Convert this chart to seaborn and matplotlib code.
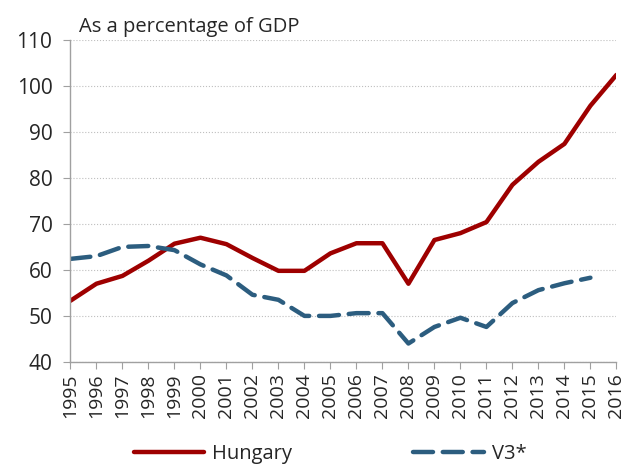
import pandas as pd
import matplotlib.pyplot as plt
import seaborn as sns
import numpy as np
from matplotlib.lines import Line2D

# dati
anni = list(range(1995, 2017))
hungary = [53.3, 57.0, 58.7, 62.0, 65.7, 67.0, 65.6, 62.6, 59.8, 59.8, 63.6,
           65.8, 65.8, 57.0, 66.5, 68.0, 70.4, 78.5, 83.5, 87.4, 95.7, 102.4]
v3 = [62.4, 63.0, 65.0, 65.2, 64.3, 61.2, 58.8, 54.6, 53.5, 50.0, 50.0,
      50.6, 50.6, 44.0, 47.6, 49.6, 47.6, 52.8, 55.6, 57.1, 58.3, np.nan]

df = pd.DataFrame({'anno': anni * 2,
                   'valore': hungary + v3,
                   'serie': ['Hungary'] * len(anni) + ['V3*'] * len(anni)})

sns.set_style('white')
plt.rcParams['font.family'] = ['Open Sans', 'DejaVu Sans']

fig, ax = plt.subplots(figsize=(6.29, 4.70), dpi=100)
fig.subplots_adjust(left=0.112, right=0.98, top=0.915, bottom=0.23)

colori = {'Hungary': '#9E0000', 'V3*': '#2C5D7F'}
sns.lineplot(data=df, x='anno', y='valore', hue='serie', palette=colori,
             linewidth=3.2, ax=ax, legend=False)
ax.lines[0].set_solid_capstyle('round')
ax.lines[1].set_dashes([4.5, 2.2])
ax.lines[1].set_dash_capstyle('round')

ax.set_xlim(1995, 2016)
ax.set_ylim(40, 110)
ax.set_yticks(range(40, 111, 10))
ax.set_xticks(anni)
ax.set_xticklabels([str(a) for a in anni], rotation=90, fontsize=14)
ax.tick_params(axis='y', labelsize=15, length=5, color='#A0A0A0', direction='out', left=True, pad=8)
ax.tick_params(axis='x', length=5, color='#A0A0A0', direction='out', bottom=True, pad=3)
ax.set_xlabel('')
ax.set_ylabel('')

ax.grid(axis='y', color='#BFBFBF', linestyle=':', linewidth=0.8)
ax.set_axisbelow(True)
for s in ['top', 'right']:
    ax.spines[s].set_visible(False)
for s in ['left', 'bottom']:
    ax.spines[s].set_color('#A0A0A0')
    ax.spines[s].set_linewidth(1.0)

ax.text(0.015, 1.01, 'As a percentage of GDP', transform=ax.transAxes,
        fontsize=14.5, ha='left', va='bottom')

handles = [Line2D([], [], color=colori['Hungary'], linewidth=3.2, solid_capstyle='round'),
           Line2D([], [], color=colori['V3*'], linewidth=3.2, dashes=[4.5, 2.2], dash_capstyle='round')]
fig.legend(handles, ['Hungary', 'V3*'], loc='lower center', bbox_to_anchor=(0.525, -0.025),
           ncol=2, frameon=False, fontsize=14.5, handlelength=3.5, columnspacing=6, handletextpad=0.4)

plt.savefig('out.png', dpi=100)
